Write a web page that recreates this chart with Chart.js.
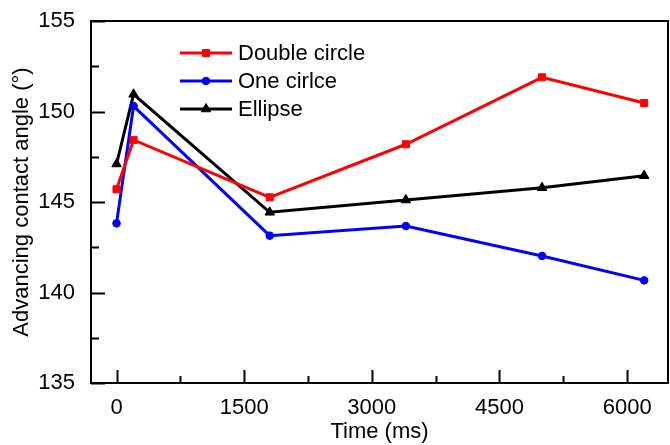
<!DOCTYPE html>
<html>
<head>
<meta charset="utf-8">
<script src="https://cdn.jsdelivr.net/npm/chart.js@4.4.1/dist/chart.umd.min.js"></script>
<style>
  html, body { margin: 0; padding: 0; background: #fff; }
  #wrap { width: 670px; height: 445px; }
</style>
</head>
<body>
<div id="wrap"><canvas id="myChart"></canvas></div>
<script>
// time in ms
const times = [0, 200, 1800, 3400, 5000, 6200];
const doubleCircle = [145.70, 148.43, 145.26, 148.19, 151.89, 150.47];
const oneCircle = [143.82, 150.30, 143.14, 143.67, 142.02, 140.67];
const ellipse = [147.10, 150.95, 144.43, 145.11, 145.79, 146.45];
const seriesNames = ['Double circle', 'One cirlce', 'Ellipse'];
const xTicks = [0, 1500, 3000, 4500, 6000];
const yTicks = [135, 140, 145, 150, 155];

const FONT = "'Liberation Sans', Arial, sans-serif";

function pts(vals) {
  return times.map((t, i) => ({ x: t, y: vals[i] }));
}

// box + inward ticks (major and minor)
const frame = {
  id: 'frame',
  afterDraw(chart) {
    const c = chart.ctx;
    const a = chart.chartArea;
    const xs = chart.scales.x, ys = chart.scales.y;
    c.save();
    c.strokeStyle = '#000';
    c.lineWidth = 2;
    c.strokeRect(a.left, a.top, a.right - a.left, a.bottom - a.top);

    const xt = xs.ticks.map(t => t.value);
    xt.forEach((v, i) => {
      const px = Math.round(xs.getPixelForValue(v)) + 0.5;
      c.beginPath(); c.moveTo(px, a.bottom); c.lineTo(px, a.bottom - 13); c.stroke();
      if (i < xt.length - 1) {
        const mx = Math.round(xs.getPixelForValue((v + xt[i + 1]) / 2)) + 0.5;
        c.beginPath(); c.moveTo(mx, a.bottom); c.lineTo(mx, a.bottom - 7); c.stroke();
      }
    });
    const yt = ys.ticks.map(t => t.value);
    yt.forEach((v, i) => {
      const py = Math.round(ys.getPixelForValue(v)) + 0.5;
      c.beginPath(); c.moveTo(a.left, py); c.lineTo(a.left + 14, py); c.stroke();
      if (i < yt.length - 1) {
        const my = Math.round(ys.getPixelForValue((v + yt[i + 1]) / 2)) + 0.5;
        c.beginPath(); c.moveTo(a.left, my); c.lineTo(a.left + 8, my); c.stroke();
      }
    });
    c.restore();
  }
};

// legend drawn inside the plot: line + marker + text
const innerLegend = {
  id: 'innerLegend',
  afterDraw(chart) {
    const c = chart.ctx;
    const a = chart.chartArea;
    const x0 = a.left + 89, x1 = a.left + 141;
    c.save();
    c.font = '22px ' + FONT;
    c.textBaseline = 'middle';
    chart.data.datasets.forEach((ds, i) => {
      const y = a.top + 32 + i * 28;
      c.strokeStyle = ds.borderColor;
      c.fillStyle = ds.borderColor;
      c.lineWidth = ds.borderWidth;
      c.beginPath(); c.moveTo(x0, y); c.lineTo(x1, y); c.stroke();
      c.lineWidth = 1;
      Chart.helpers.drawPoint(c, {
        pointStyle: ds.pointStyle,
        radius: ds.pointRadius,
        borderWidth: 1,
        rotation: 0
      }, (x0 + x1) / 2, y);
      c.fillStyle = '#000';
      c.fillText(ds.label, x1 + 6, y + 1);
    });
    c.restore();
  }
};

function mkSet(label, vals, color, style, r) {
  return {
    label: label,
    data: pts(vals),
    borderColor: color,
    backgroundColor: color,
    borderWidth: 3,
    pointStyle: style,
    pointRadius: r,
    pointBorderWidth: 1,
    pointBackgroundColor: color,
    pointBorderColor: color,
    tension: 0,
    fill: false
  };
}

const ctx = document.getElementById('myChart');
const myChart = new Chart(ctx, {
  type: 'line',
  data: {
    datasets: [
      mkSet(seriesNames[0], doubleCircle, '#ff0000', 'rect', 5),
      mkSet(seriesNames[1], oneCircle, '#0000ff', 'circle', 3.8),
      mkSet(seriesNames[2], ellipse, '#000000', 'triangle', 5.5)
    ]
  },
  options: {
    responsive: true,
    maintainAspectRatio: false,
    animation: false,
    layout: { autoPadding: false, padding: { left: 0, top: 21, right: 2, bottom: 0 } },
    plugins: {
      legend: { display: false },
      tooltip: { enabled: false }
    },
    scales: {
      x: {
        type: 'linear',
        min: -300,
        max: 6480,
        grid: { display: false, drawTicks: false },
        border: { display: false },
        afterBuildTicks(scale) { scale.ticks = xTicks.map(v => ({ value: v })); },
        ticks: {
          color: '#000',
          font: { family: FONT, size: 22 },
          padding: 12,
          maxRotation: 0,
          autoSkip: false,
          callback: v => String(v)
        },
        title: {
          display: true,
          text: 'Time (ms)',
          color: '#000',
          font: { family: FONT, size: 22 },
          padding: { top: -4, bottom: 0 }
        },
        afterFit(scale) {
          scale.height = 62;
          scale.paddingLeft = 0;
          scale.paddingRight = 0;
        }
      },
      y: {
        min: 135,
        max: 155,
        grid: { display: false, drawTicks: false },
        border: { display: false },
        afterBuildTicks(scale) { scale.ticks = yTicks.map(v => ({ value: v })); },
        ticks: {
          color: '#000',
          font: { family: FONT, size: 22 },
          padding: 16,
          autoSkip: false,
          callback: v => String(v)
        },
        title: {
          display: true,
          text: 'Advancing contact angle (°)',
          color: '#000',
          font: { family: FONT, size: 22 },
          padding: { top: 9, bottom: 0 }
        },
        afterFit(scale) {
          scale.width = 91;
          scale.paddingTop = 0;
          scale.paddingBottom = 0;
        }
      }
    }
  },
  plugins: [frame, innerLegend]
});
</script>
</body>
</html>
